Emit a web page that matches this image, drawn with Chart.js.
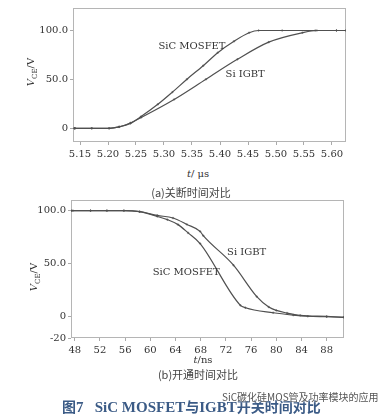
<!DOCTYPE html>
<html>
<head>
<meta charset="utf-8">
<script src="https://cdn.jsdelivr.net/npm/chart.js@4.4.1/dist/chart.umd.min.js"></script>
<style>
  body { margin: 0; background: #fff; width: 390px; height: 415px; position: relative; overflow: hidden;
         font-family: "DejaVu Serif", serif; color: #333; }
  .box { position: absolute; left: 0; width: 390px; }
  .txt { position: absolute; white-space: nowrap; transform: translate(-50%, -50%); font-size: 10px; }
  .ytitle { transform: translate(-50%, -50%) rotate(-90deg); }
  .cap { font-family: "Noto Sans CJK SC", sans-serif; font-size: 11px; color: #444; }
  .fig { position: absolute; left: 62px; top: 396px; font-family: "Liberation Serif", serif;
         font-weight: bold; font-size: 15px; color: #3b5b86; white-space: nowrap; }
  .fig .cn { font-family: "Noto Sans CJK SC", sans-serif; font-size: 14px; }
  .mark { position: absolute; left: 222px; top: 389px; font-family: "Noto Sans CJK SC", sans-serif; font-size: 10px;
          color: #555; white-space: nowrap; text-shadow: 0 0 2px #fff, 0 0 2px #fff; }
  sub { font-size: 7px; }
</style>
</head>
<body>
<div class="box" style="top:0;height:165px"><canvas id="offChart"></canvas></div>
<div class="box" style="top:190px;height:168px"><canvas id="onChart"></canvas></div>

<div class="txt ytitle" style="left:32px;top:72px"><i>V</i><sub>CE</sub>/V</div>
<div class="txt" style="left:198px;top:173px"><i>t</i>/ μs</div>
<div class="txt cap" style="left:191px;top:192px">(a)关断时间对比</div>

<div class="txt ytitle" style="left:35px;top:277px"><i>V</i><sub>CE</sub>/V</div>
<div class="txt" style="left:203px;top:359px"><i>t</i>/ns</div>
<div class="txt cap" style="left:198px;top:374px">(b)开通时间对比</div>

<div class="fig"><span class="cn">图</span>7&nbsp;&nbsp;&nbsp;SiC MOSFET<span class="cn">与</span>IGBT<span class="cn">开关时间对比</span></div>
<div class="mark">SiC碳化硅MOS管及功率模块的应用</div>

<script>
// (a) turn-off, time in us
var offTicksX = [5.15, 5.20, 5.25, 5.30, 5.35, 5.40, 5.45, 5.50, 5.55, 5.60];
var offTicksY = [0, 50, 100];
var sicOffT = [5.14, 5.141, 5.171, 5.202, 5.22, 5.24, 5.259, 5.289, 5.315, 5.341, 5.37, 5.396, 5.425, 5.452, 5.469, 5.511, 5.570, 5.608, 5.625];
var sicOffV = [0, 0, 0, 0, 1.5, 5, 12, 24.5, 37, 50.2, 64, 77.3, 89, 97.7, 100, 100, 100, 100, 100];
var igbtOffT = [5.14, 5.141, 5.171, 5.202, 5.22, 5.24, 5.259, 5.318, 5.375, 5.431, 5.487, 5.547, 5.573, 5.608, 5.625];
var igbtOffV = [0, 0, 0, 0, 1.5, 5.5, 11, 29.5, 50.2, 70.5, 88.1, 97.7, 100, 100, 100];

// (b) turn-on, time in ns
var onTicksX = [48, 52, 56, 60, 64, 68, 72, 76, 80, 84, 88];
var onTicksY = [-20, 0, 50, 100];
var sicOnT = [47.4, 47.7, 50.5, 53.1, 55.8, 58.3, 61.1, 62.7, 64.4, 66, 67.9, 74.3, 75.1, 79.5, 82.7, 85, 88, 90.75];
var sicOnV = [100, 100, 100, 100, 100, 99, 94.5, 91.5, 86.8, 79, 69, 10.8, 8.5, 3.8, 1.6, 0.5, 0, -0.5];
var igbtOnT = [47.4, 50.5, 53.1, 55.8, 58.3, 61.1, 63.6, 65.8, 67.9, 68.4, 73.2, 76.9, 78.8, 80, 81.7, 83.8, 88, 90.75];
var igbtOnV = [100, 100, 100, 100, 99, 95.5, 93, 87, 80.4, 76.4, 48.6, 19, 9.2, 6, 3.5, 1.3, 0.3, -0.5];

function to_points(xs, ys) {
  return xs.map(function (x, i) { return { x: x, y: ys[i] }; });
}

function fmt_y(v) {
  if (v === 0) return "0";
  if (v < 0) return String(v);
  return v.toFixed(1);
}

var frame_plugin = {
  id: "frame",
  beforeDatasetsDraw: function (chart) {
    var a = chart.chartArea, ctx = chart.ctx;
    ctx.save();
    ctx.strokeStyle = "#b5b5b5";
    ctx.lineWidth = 1;
    ctx.strokeRect(Math.round(a.left) + 0.5, Math.round(a.top) + 0.5,
                   Math.round(a.right - a.left) - 1, Math.round(a.bottom - a.top) - 1);
    ctx.restore();
  }
};

var notes_plugin = {
  id: "notes",
  afterDatasetsDraw: function (chart, args, opts) {
    var ctx = chart.ctx;
    ctx.save();
    ctx.font = '10px "DejaVu Serif", serif';
    ctx.fillStyle = "#333";
    ctx.textAlign = "center";
    ctx.textBaseline = "middle";
    (opts.items || []).forEach(function (n) {
      ctx.fillText(n.text, chart.scales.x.getPixelForValue(n.x), chart.scales.y.getPixelForValue(n.y));
    });
    ctx.restore();
  }
};

function make_series(label, pts) {
  return {
    label: label,
    data: pts,
    borderColor: "#505050",
    backgroundColor: "#505050",
    borderWidth: 1.2,
    cubicInterpolationMode: "monotone",
    pointStyle: "cross",
    pointRadius: 1.2,
    pointBorderWidth: 0.7,
    showLine: true,
    fill: false
  };
}

function make_chart(id, cfg) {
  var ctx = document.getElementById(id).getContext("2d");
  return new Chart(ctx, {
    type: "scatter",
    data: { datasets: cfg.datasets },
    options: {
      responsive: true,
      maintainAspectRatio: false,
      animation: false,
      layout: { padding: cfg.padding },
      plugins: {
        legend: { display: false },
        tooltip: { enabled: false },
        notes: { items: cfg.notes }
      },
      scales: {
        x: {
          type: "linear",
          min: cfg.xMin,
          max: cfg.xMax,
          afterBuildTicks: function (s) { s.ticks = cfg.xTicks.map(function (v) { return { value: v }; }); },
          afterFit: function (s) { s.height = cfg.xHeight; },
          grid: { drawOnChartArea: false, drawTicks: true, tickLength: 3, color: "#aaa" },
          border: { display: false },
          ticks: {
            padding: 3,
            maxRotation: 0,
            autoSkip: false,
            color: "#333",
            font: { family: '"DejaVu Serif", serif', size: 10 },
            callback: cfg.xFmt
          }
        },
        y: {
          type: "linear",
          min: cfg.yMin,
          max: cfg.yMax,
          afterBuildTicks: function (s) { s.ticks = cfg.yTicks.map(function (v) { return { value: v }; }); },
          afterFit: function (s) { s.width = cfg.yWidth; },
          grid: { drawOnChartArea: false, drawTicks: true, tickLength: 3, color: "#aaa" },
          border: { display: false },
          ticks: {
            padding: 2,
            autoSkip: false,
            color: "#333",
            font: { family: '"DejaVu Serif", serif', size: 10 },
            callback: fmt_y
          }
        }
      }
    },
    plugins: [frame_plugin, notes_plugin]
  });
}

make_chart("offChart", {
  datasets: [make_series("SiC MOSFET", to_points(sicOffT, sicOffV)),
             make_series("Si IGBT", to_points(igbtOffT, igbtOffV))],
  padding: { top: 7, right: 44, left: 0, bottom: 0 },
  xMin: 5.1375, xMax: 5.625, yMin: -14, yMax: 123,
  xTicks: offTicksX, yTicks: offTicksY,
  xHeight: 23, yWidth: 73,
  xFmt: function (v) { return v.toFixed(2); },
  notes: [{ text: "SiC MOSFET", x: 5.35, y: 84 }, { text: "Si IGBT", x: 5.445, y: 55 }]
});

make_chart("onChart", {
  datasets: [make_series("SiC MOSFET", to_points(sicOnT, sicOnV)),
             make_series("Si IGBT", to_points(igbtOnT, igbtOnV))],
  padding: { top: 10, right: 46, left: 0, bottom: 0 },
  xMin: 47.4, xMax: 90.75, yMin: -20, yMax: 110,
  xTicks: onTicksX, yTicks: onTicksY,
  xHeight: 20, yWidth: 71,
  xFmt: function (v) { return String(v); },
  notes: [{ text: "Si IGBT", x: 75.3, y: 61 }, { text: "SiC MOSFET", x: 65.7, y: 42 }]
});
</script>
</body>
</html>
